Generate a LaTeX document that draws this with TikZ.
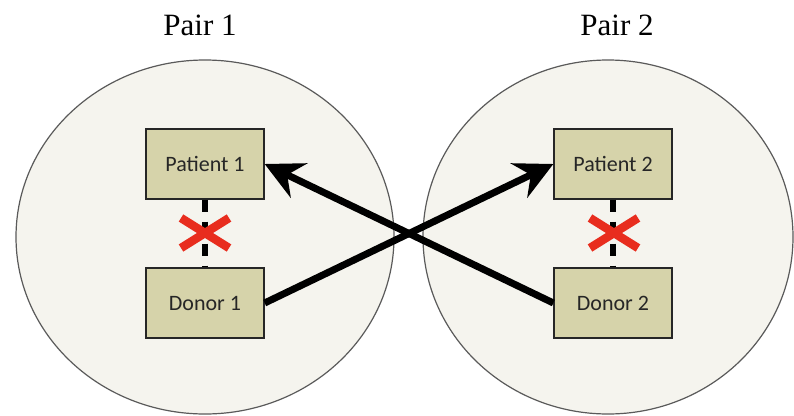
\documentclass[tikz,border=0pt]{standalone}
\usepackage{fontspec}
\setmainfont{Liberation Serif}
\newfontfamily\boxfont{Carlito}
\usetikzlibrary{arrows.meta}
\definecolor{circfill}{RGB}{245,244,238}
\definecolor{circline}{RGB}{90,90,90}
\definecolor{boxfill}{RGB}{214,211,170}
\definecolor{crossred}{RGB}{232,45,30}
\begin{document}
\begin{tikzpicture}[x=1pt,y=-1pt,
  pairbox/.style={draw=black!85, line width=1.3pt, fill=boxfill, minimum width=118pt, minimum height=70pt, inner sep=0pt, font=\boxfont\fontsize{22}{26}\selectfont, text=black!85},
  paircircle/.style={draw=circline, line width=1.2pt, fill=circfill},
  pairtitle/.style={font=\fontsize{31}{36}\selectfont, anchor=base},
  swaparrow/.style={line width=7pt, -{Stealth[length=38pt,width=38pt,inset=13pt]}},
  broken/.style={line width=5.5pt, dash pattern=on 12pt off 10pt},
  crossmark/.style={draw=crossred, line width=8.5pt}]
  \useasboundingbox[fill=white] (0,0) rectangle (794,415);
  % titles
  \node[pairtitle] (t1) at (200,35) {Pair 1};
  \node[pairtitle] (t2) at (617,35) {Pair 2};
  % circles
  \draw[paircircle] (205,237) ellipse [x radius=189pt, y radius=177pt];
  \draw[paircircle] (608,237) ellipse [x radius=185pt, y radius=177pt];
  % boxes
  \node[pairbox] (p1) at (205,164) {Patient 1};
  \node[pairbox] (d1) at (205,303) {Donor 1};
  \node[pairbox] (p2) at (613,164) {Patient 2};
  \node[pairbox] (d2) at (613,303) {Donor 2};
  % broken links
  \draw[broken] (p1.south) -- (d1.north);
  \draw[broken] (p2.south) -- (d2.north);
  \coordinate (x1) at (205,233);
  \coordinate (x2) at (614,233);
  \draw[crossmark, shift={(x1)}] (-24,-15) -- (24,15) (-24,15) -- (24,-15);
  \draw[crossmark, shift={(x2)}] (-24,-15) -- (24,15) (-24,15) -- (24,-15);
  % exchange arrows
  \draw[swaparrow] (d1.east) -- (p2.west);
  \draw[swaparrow] (d2.west) -- (p1.east);
\end{tikzpicture}
\end{document}
